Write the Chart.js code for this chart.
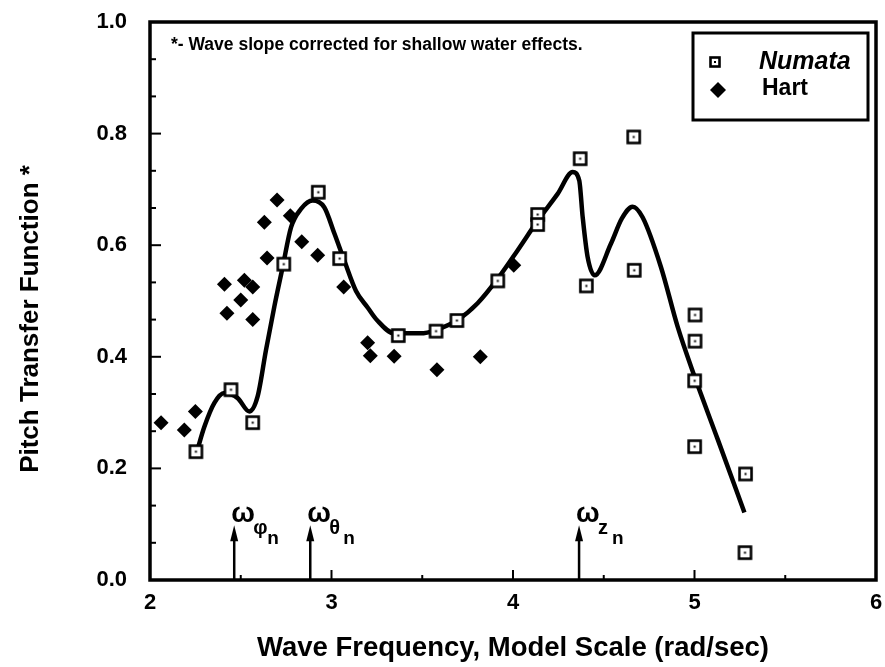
<!DOCTYPE html>
<html>
<head>
<meta charset="utf-8">
<script src="https://cdn.jsdelivr.net/npm/chart.js@4.4.1/dist/chart.umd.min.js"></script>
<style>
  html, body { margin: 0; padding: 0; background: #fff; }
  #wrap { width: 885px; height: 667px; }
</style>
</head>
<body>
<div id="wrap"><canvas id="pitch"></canvas></div>
<script>
// Numata measurements (open squares)
var numataX = [2.253, 2.446, 2.566, 2.737, 2.927, 3.045, 3.368, 3.576, 3.691, 3.916, 4.136, 4.136,
               4.370, 4.404, 4.665, 4.668, 5.003, 5.003, 5.001, 5.001, 5.281, 5.278];
var numataY = [0.230, 0.341, 0.282, 0.566, 0.695, 0.576, 0.438, 0.446, 0.465, 0.536, 0.655, 0.637,
               0.755, 0.527, 0.794, 0.555, 0.475, 0.428, 0.357, 0.239, 0.190, 0.049];

// Hart measurements (filled diamonds)
var hartX = [2.061, 2.189, 2.250, 2.410, 2.424, 2.500, 2.520, 2.566, 2.566, 2.630, 2.645, 2.700,
             2.773, 2.836, 2.924, 3.067, 3.199, 3.214, 3.345, 3.581, 3.820, 4.004];
var hartY = [0.282, 0.269, 0.302, 0.530, 0.478, 0.502, 0.537, 0.525, 0.467, 0.641, 0.577, 0.681,
             0.653, 0.606, 0.582, 0.525, 0.425, 0.402, 0.401, 0.377, 0.400, 0.564];

// faired curve through the data
var fitX = [2.258, 2.300, 2.354, 2.410, 2.483, 2.547, 2.593, 2.639, 2.685, 2.731, 2.777, 2.832,
            2.896, 2.960, 3.016, 3.070, 3.135, 3.200, 3.250, 3.346, 3.490, 3.576, 3.695, 3.805,
            3.916, 4.026, 4.136, 4.246, 4.329, 4.365, 4.384, 4.411, 4.450, 4.540, 4.600, 4.659,
            4.714, 4.815, 4.907, 5.000, 5.128, 5.275];
var fitY = [0.230, 0.275, 0.317, 0.335, 0.326, 0.302, 0.329, 0.412, 0.490, 0.561, 0.632, 0.665,
            0.680, 0.668, 0.621, 0.573, 0.518, 0.488, 0.466, 0.442, 0.442, 0.448, 0.466, 0.496,
            0.540, 0.591, 0.644, 0.692, 0.731, 0.716, 0.650, 0.579, 0.546, 0.603, 0.648, 0.669,
            0.650, 0.561, 0.454, 0.365, 0.252, 0.121];

// natural frequency markers
var natFreqX = [2.464, 2.883, 4.364];
var natFreqSub = ['\u03c6', '\u03b8', 'z'];
var natFreqTop = 0.098;

var xTicks = [2, 3, 4, 5, 6];
var yTicks = [0.0, 0.2, 0.4, 0.6, 0.8, 1.0];

function pairs(xs, ys) {
    return xs.map(function(x, i) { return {x: x, y: ys[i]}; });
}

function squareMarker(size) {
    var c = document.createElement('canvas');
    c.width = size + 4; c.height = size + 4;
    var g = c.getContext('2d');
    g.fillStyle = '#fff';
    g.fillRect(2, 2, size, size);
    g.lineWidth = 2.6;
    g.strokeStyle = '#000';
    g.strokeRect(2.5, 2.5, size - 1, size - 1);
    g.fillStyle = '#000';
    var m = (size + 4) / 2;
    g.fillRect(m - 1, m - 1, 2, 2);
    return c;
}
var sq = squareMarker(13);
var sqSmall = squareMarker(10);

var FONT = "'Liberation Sans', Arial, sans-serif";

var decorations = {
    id: 'decorations',
    afterDraw: function(chart) {
        var ctx = chart.ctx;
        var xs = chart.scales.x, ys = chart.scales.y;
        var a = chart.chartArea;
        ctx.save();
        ctx.strokeStyle = '#000';
        ctx.fillStyle = '#000';

        // inward ticks on left axis
        ctx.lineWidth = 2;
        for (var k = 0; k <= 15; k++) {
            var yy = ys.getPixelForValue(k / 15);
            var len = (k % 3 === 0) ? 11 : 6;
            ctx.beginPath();
            ctx.moveTo(a.left, yy);
            ctx.lineTo(a.left + len, yy);
            ctx.stroke();
        }
        // inward ticks on bottom axis
        for (var v = 2.5; v < 6; v += 0.5) {
            var xx = xs.getPixelForValue(v);
            var l2 = (v % 1 === 0) ? 10 : 5;
            ctx.beginPath();
            ctx.moveTo(xx, a.bottom);
            ctx.lineTo(xx, a.bottom - l2);
            ctx.stroke();
        }

        // frame
        ctx.lineWidth = 3.5;
        ctx.strokeRect(a.left, a.top, a.right - a.left, a.bottom - a.top);

        // natural frequency arrows
        natFreqX.forEach(function(f, i) {
            var px = xs.getPixelForValue(f);
            var y0 = ys.getPixelForValue(0);
            var tip = ys.getPixelForValue(natFreqTop);
            ctx.lineWidth = 2.5;
            ctx.beginPath();
            ctx.moveTo(px, y0);
            ctx.lineTo(px, tip + 10);
            ctx.stroke();
            ctx.beginPath();
            ctx.moveTo(px, tip);
            ctx.lineTo(px - 4, tip + 16);
            ctx.lineTo(px + 4, tip + 16);
            ctx.closePath();
            ctx.fill();
            var lx = px - 3;
            ctx.textAlign = 'left';
            ctx.textBaseline = 'alphabetic';
            ctx.font = 'bold 28px ' + FONT;
            ctx.fillText('\u03c9', lx, tip - 3);
            ctx.font = 'bold 20px ' + FONT;
            ctx.fillText(natFreqSub[i], lx + 22, tip + 9);
            ctx.font = 'bold 19px ' + FONT;
            ctx.fillText('n', lx + 36, tip + 19);
        });

        // y axis title
        ctx.save();
        ctx.translate(31, 319);
        ctx.rotate(-Math.PI / 2);
        ctx.textAlign = 'center';
        ctx.textBaseline = 'middle';
        ctx.font = 'bold 26px ' + FONT;
        ctx.fillText('Pitch Transfer Function *', 0, 0);
        ctx.restore();

        // footnote
        ctx.font = 'bold 17.5px ' + FONT;
        ctx.textAlign = 'left';
        ctx.textBaseline = 'middle';
        ctx.fillText('*- Wave slope corrected for shallow water effects.', 171, 45);

        // legend box
        var bx = 693, by = 33, bw = 175, bh = 87;
        ctx.fillStyle = '#fff';
        ctx.fillRect(bx, by, bw, bh);
        ctx.fillStyle = '#000';
        ctx.lineWidth = 3;
        ctx.strokeRect(bx, by, bw, bh);
        var ds = chart.data.datasets;
        ctx.drawImage(sqSmall, 715 - sqSmall.width / 2, 62 - sqSmall.height / 2);
        ctx.beginPath();
        ctx.moveTo(718, 82); ctx.lineTo(726, 90); ctx.lineTo(718, 98); ctx.lineTo(710, 90);
        ctx.closePath();
        ctx.fill();
        ctx.font = 'italic bold 25px ' + FONT;
        ctx.fillText(ds[0].label, 759, 62);
        ctx.font = 'bold 23px ' + FONT;
        ctx.fillText(ds[1].label, 762, 89);
        ctx.restore();
    }
};

var config = {
    type: 'scatter',
    data: {
        datasets: [{
            label: 'Numata',
            data: pairs(numataX, numataY),
            pointStyle: sq,
            order: 1
        }, {
            label: 'Hart',
            data: pairs(hartX, hartY),
            pointStyle: 'rectRot',
            pointRadius: 7.5,
            backgroundColor: '#000',
            borderColor: '#000',
            borderWidth: 0,
            order: 2
        }, {
            label: 'fit',
            data: pairs(fitX, fitY),
            showLine: true,
            pointRadius: 0,
            borderColor: '#000',
            borderWidth: 4.5,
            cubicInterpolationMode: 'monotone',
            order: 3
        }]
    },
    options: {
        responsive: true,
        maintainAspectRatio: false,
        animation: false,
        events: [],
        layout: { autoPadding: false, padding: { top: 22, right: 9, left: 0, bottom: 0 } },
        plugins: { legend: { display: false }, tooltip: { enabled: false } },
        scales: {
            x: {
                type: 'linear', min: 2, max: 6,
                afterFit: function(s) { s.height = 87; s.paddingLeft = 0; s.paddingRight = 0; },
                afterBuildTicks: function(s) { s.ticks = xTicks.map(function(v) { return {value: v}; }); },
                grid: { display: false, drawTicks: false },
                border: { display: false },
                ticks: { padding: 10, color: '#000', font: { family: FONT, size: 22, weight: 'bold' } },
                title: {
                    display: true, text: 'Wave Frequency, Model Scale (rad/sec)', color: '#000',
                    font: { family: FONT, size: 27.5, weight: 'bold' }, padding: { top: 0, bottom: 2 }
                }
            },
            y: {
                type: 'linear', min: 0, max: 1,
                afterFit: function(s) { s.width = 150; s.paddingTop = 0; s.paddingBottom = 0; },
                afterBuildTicks: function(s) { s.ticks = yTicks.map(function(v) { return {value: v}; }); },
                grid: { display: false, drawTicks: false },
                border: { display: false },
                ticks: {
                    padding: 23, color: '#000', font: { family: FONT, size: 22, weight: 'bold' },
                    callback: function(v) { return Number(v).toFixed(1); }
                },
                title: { display: false }
            }
        }
    },
    plugins: [decorations]
};

window.onload = function() {
    var ctx = document.getElementById('pitch').getContext('2d');
    window.pitchChart = new Chart(ctx, config);
};
</script>
</body>
</html>
